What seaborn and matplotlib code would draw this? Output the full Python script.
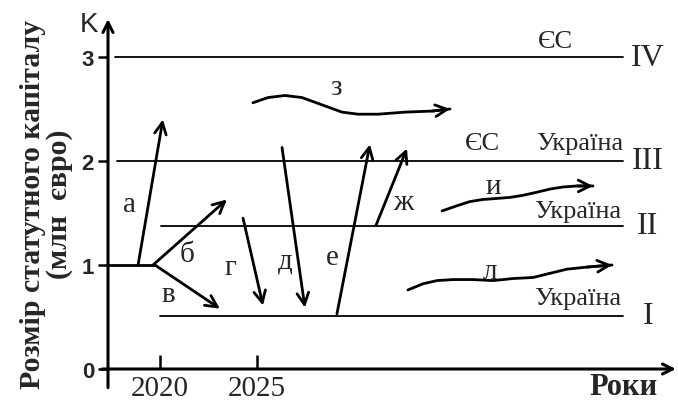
import matplotlib
matplotlib.use("Agg")
import matplotlib.pyplot as plt
import seaborn as sns
import pandas as pd

# ---- data -------------------------------------------------------------
level_names = ["IV", "III", "II", "I"]
level_values = [3.0, 2.0, 1.375, 0.51]
level_starts = [2017.68, 2017.78, 2020.05, 2020.0]
level_end = 2043.87

base_x = [2017.32, 2019.74]
base_y = [1.0, 1.0]

arrow_names = ["а", "б", "в", "г", "д", "е", "ж"]
arrow_x0 = [2018.87, 2019.64, 2019.74, 2024.28, 2026.29, 2029.12, 2031.13]
arrow_y0 = [1.00, 1.00, 1.00, 1.45, 2.13, 0.53, 1.38]
arrow_x1 = [2020.15, 2023.45, 2023.09, 2025.31, 2027.47, 2030.82, 2032.73]
arrow_y1 = [2.40, 1.63, 0.58, 0.61, 0.59, 2.16, 2.12]

z_x = [2024.79, 2025.57, 2026.44, 2027.32, 2028.35, 2029.38, 2030.21, 2031.24, 2032.63, 2034.02, 2034.95]
z_y = [2.56, 2.61, 2.63, 2.61, 2.54, 2.47, 2.45, 2.45, 2.47, 2.48, 2.50]
i_x = [2034.54, 2035.31, 2035.98, 2036.65, 2037.37, 2038.04, 2038.71, 2039.43, 2040.10, 2040.77, 2041.49, 2042.32]
i_y = [1.52, 1.57, 1.61, 1.63, 1.64, 1.65, 1.67, 1.70, 1.73, 1.75, 1.76, 1.76]
l_x = [2032.78, 2033.56, 2034.28, 2035.10, 2036.13, 2037.16, 2038.20, 2039.23, 2040.10, 2040.98, 2042.01, 2043.30]
l_y = [0.76, 0.82, 0.85, 0.86, 0.86, 0.85, 0.87, 0.88, 0.92, 0.96, 0.98, 1.00]

y_ticks = [0, 1, 2, 3]
x_ticks = [2020, 2025]
x_tick_labels = ["2020", "2025"]

# ---- styling ----------------------------------------------------------
sns.set_theme(style="white")
plt.rcParams["font.family"] = ["Liberation Serif", "DejaVu Serif"]

fig = plt.figure(figsize=(6.78, 4.02), dpi=100)
W, H = 678, 402
TOP = 20
ax = fig.add_axes([108 / W, (H - 370) / H, (672 - 108) / W, (370 - TOP) / H])
xmin, xmax = 2017.32, 2046.39
ymin, ymax = 0.0, (370 - TOP) / 104
ax.set_xlim(xmin, xmax)
ax.set_ylim(ymin, ymax)
for s in ax.spines.values():
    s.set_visible(False)
ax.set_facecolor("white")

LW_AX = 2.2
LW_ARR = 2.0
black = "black"

# axes with arrows
ax.annotate("", xy=(xmax + 0.2, 0), xytext=(xmin - 0.3, 0),
            arrowprops=dict(arrowstyle="->,head_length=0.6,head_width=0.3", lw=LW_AX,
                            color=black, shrinkA=0, shrinkB=0), annotation_clip=False)
ax.annotate("", xy=(xmin, ymax), xytext=(xmin, -0.18),
            arrowprops=dict(arrowstyle="->,head_length=0.6,head_width=0.3", lw=LW_AX,
                            color=black, shrinkA=0, shrinkB=0), annotation_clip=False)

# levels
lv = []
for n, v, s0 in zip(level_names, level_values, level_starts):
    lv.append(pd.DataFrame({"x": [s0, level_end], "y": [v, v], "lvl": n}))
lv = pd.concat(lv)
sns.lineplot(data=lv, x="x", y="y", units="lvl", estimator=None, sort=False,
             color=black, lw=1.3, ax=ax, legend=False)
sns.lineplot(x=base_x, y=base_y, color=black, lw=LW_ARR, ax=ax, sort=False)

# straight arrows
for x0, y0, x1, y1 in zip(arrow_x0, arrow_y0, arrow_x1, arrow_y1):
    ax.annotate("", xy=(x1, y1), xytext=(x0, y0),
                arrowprops=dict(arrowstyle="->,head_length=0.7,head_width=0.35", lw=LW_ARR,
                                color=black, shrinkA=0, shrinkB=0))

# wavy arrows
for cx, cy in [(z_x, z_y), (i_x, i_y), (l_x, l_y)]:
    sns.lineplot(x=cx, y=cy, sort=False, color=black, lw=LW_ARR, ax=ax)
    ax.annotate("", xy=(cx[-1], cy[-1]), xytext=(cx[-2], cy[-2]),
                arrowprops=dict(arrowstyle="->,head_length=0.7,head_width=0.35", lw=LW_ARR,
                                color=black, shrinkA=0, shrinkB=0))

# letters
letters = ["а", "б", "в", "г", "д", "е", "ж", "з", "и", "л"]
lx = [2018.45, 2021.39, 2020.41, 2023.61, 2026.44, 2028.87, 2032.53, 2029.07, 2037.16, 2037.01]
ly = [1.59, 1.11, 0.72, 0.98, 1.04, 1.08, 1.61, 2.71, 1.76, 0.94]
for t, x, y in zip(letters, lx, ly):
    ax.text(x, y, t, fontsize=21, ha="center", va="center")

# region labels
RS = 19
ax.text(2040.36, 3.15, "ЄС", fontsize=RS, ha="center", va="center")
ax.text(2036.6, 2.17, "ЄС", fontsize=RS, ha="center", va="center")
ax.text(2041.65, 2.17, "Україна", fontsize=RS, ha="center", va="center")
ax.text(2041.55, 1.52, "Україна", fontsize=RS, ha="center", va="center")
ax.text(2041.55, 0.68, "Україна", fontsize=RS, ha="center", va="center")
for n, v in zip(level_names, level_values):
    ax.text(2045.15, v, n, fontsize=23, ha="center", va="center", clip_on=False)

ax.text(2016.33, 3.32, "K", fontsize=20, ha="center", va="center",
        family=["Liberation Sans", "DejaVu Sans"], clip_on=False)
ax.text(2043.9, -0.17, "Роки", fontsize=22, fontweight="bold", ha="center", va="center",
        clip_on=False)

# ticks
ax.set_yticks(y_ticks)
ax.set_yticklabels([str(v) for v in y_ticks], fontsize=16, fontweight="bold",
                   family=["Liberation Sans", "DejaVu Sans"])
ax.set_xticks(x_ticks)
ax.set_xticklabels(x_tick_labels, fontsize=21)
ax.tick_params(axis="y", direction="out", length=7, width=1.8, color=black, left=True, pad=3)
ax.tick_params(axis="x", direction="in", length=10, width=1.8, color=black, bottom=True, pad=4)
ax.set_xlabel("")
ax.set_ylabel("Розмір статутного капіталу\n(млн  євро)", fontsize=21.5, fontweight="bold",
              labelpad=6, linespacing=1.0)
ax.yaxis.set_label_coords(-0.062, 0.474)

fig.savefig("out.png", dpi=100)
